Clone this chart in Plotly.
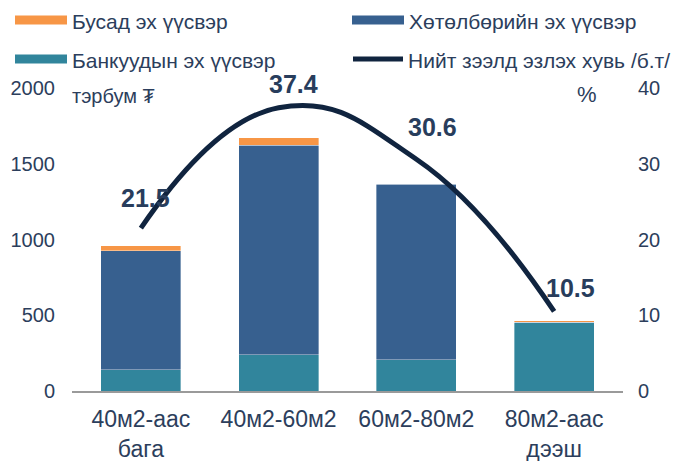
import plotly.graph_objects as go

categories = ["40м2-аас<br>бага", "40м2-60м2", "60м2-80м2", "80м2-аас<br>дээш"]
bank_funds = [140, 238, 205, 450]
program_funds = [787, 1384, 1159, 5]
other_funds = [33, 51, 5, 10]
loan_share = [21.5, 37.4, 30.6, 10.5]

series_names = ["Бусад эх үүсвэр", "Хөтөлбөрийн эх үүсвэр",
                "Банкуудын эх үүсвэр", "Нийт зээлд эзлэх хувь /б.т/"]

ORANGE = "#f79646"
BLUE = "#37608f"
TEAL = "#31859c"
NAVY = "#10243f"
TEXT = "#2c3e5c"
FONT = "Liberation Sans, Arial, sans-serif"

W, H = 694, 461
L, R, T, B = 72, 71, 88, 70
PW, PH = W - L - R, H - T - B


def px_x(px):
    return (px - L) / PW


def px_y(py):
    return (H - B - py) / PH


fig = go.Figure()
for vals, color, name in [(bank_funds, TEAL, series_names[2]),
                          (program_funds, BLUE, series_names[1]),
                          (other_funds, ORANGE, series_names[0])]:
    fig.add_trace(go.Bar(x=categories, y=vals, name=name, marker_color=color,
                         marker_line=dict(color="rgba(255,255,255,0.6)", width=0.6),
                         width=0.58, showlegend=False))

fig.add_trace(go.Scatter(x=categories, y=loan_share, yaxis="y2", mode="lines",
                         line=dict(color=NAVY, width=5, shape="spline", smoothing=1.3),
                         name=series_names[3], showlegend=False))

# value labels above the line points
offsets = [(5, 30), (15, 24), (16, 32), (16, 23)]
for cat, v, (dx, dy) in zip(categories, loan_share, offsets):
    fig.add_annotation(x=cat, y=v, yref="y2", text=f"<b>{v}</b>", showarrow=False,
                       xshift=dx, yshift=dy, font=dict(size=25, color="#283d5c", family=FONT))

# legend drawn as swatches plus labels in two columns
legend_items = [
    (series_names[0], ORANGE, "rect", 15, 20),
    (series_names[1], BLUE, "rect", 352, 20),
    (series_names[2], TEAL, "rect", 15, 59),
    (series_names[3], NAVY, "line", 351, 59),
]
for name, color, kind, px, py in legend_items:
    if kind == "rect":
        fig.add_shape(type="rect", xref="paper", yref="paper",
                      x0=px_x(px), x1=px_x(px + 52),
                      y0=px_y(py + 4.5), y1=px_y(py - 4.5), fillcolor=color, line_width=0)
    else:
        fig.add_shape(type="line", xref="paper", yref="paper",
                      x0=px_x(px + 2), x1=px_x(px + 52),
                      y0=px_y(py), y1=px_y(py), line=dict(color=color, width=5))
    fig.add_annotation(xref="paper", yref="paper", x=px_x(px + 55), y=px_y(py + 1), text=name,
                       showarrow=False, xanchor="left", yanchor="middle",
                       font=dict(size=21, color=TEXT, family=FONT))

fig.add_annotation(xref="paper", yref="paper", x=px_x(70), y=px_y(96), text="тэрбум ₮",
                   showarrow=False, xanchor="left", yanchor="middle",
                   font=dict(size=20, color=TEXT, family=FONT))
fig.add_annotation(xref="paper", yref="paper", x=px_x(587), y=px_y(94), text="%",
                   showarrow=False, xanchor="center", yanchor="middle",
                   font=dict(size=22, color=TEXT, family=FONT))

fig.update_layout(
    width=W, height=H, barmode="stack",
    margin=dict(l=L, r=R, t=T, b=B),
    plot_bgcolor="white", paper_bgcolor="white",
    font=dict(family=FONT, size=20, color=TEXT),
    showlegend=False,
    xaxis=dict(showline=True, linecolor="#9a9a9a", linewidth=2, ticks="", automargin=False,
               tickfont=dict(size=23, color=TEXT), ticklabelstandoff=6),
    yaxis=dict(range=[0, 2000], dtick=500, showgrid=False, zeroline=False, automargin=False,
               showline=False, tickfont=dict(size=20, color=TEXT), ticklabelstandoff=16),
    yaxis2=dict(range=[0, 40], dtick=10, overlaying="y", side="right", showgrid=False,
                zeroline=False, showline=False, automargin=False,
                tickfont=dict(size=20, color=TEXT), ticklabelstandoff=14),
)

fig.write_html("out.html")
